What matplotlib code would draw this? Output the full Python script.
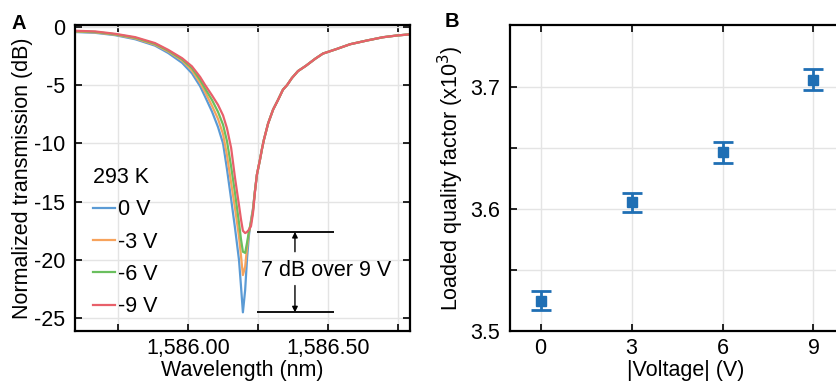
import matplotlib
matplotlib.use('Agg')
import matplotlib.pyplot as plt
from matplotlib.ticker import FuncFormatter

plt.rcParams['font.family'] = ['Liberation Sans', 'DejaVu Sans']
plt.rcParams['axes.unicode_minus'] = False

# ---- panel A: transmission spectra ----
wavelength = [1585.596, 1585.668, 1585.739, 1585.811, 1585.882, 1585.929, 1585.979, 1586.014,
              1586.043, 1586.061, 1586.086, 1586.107, 1586.125, 1586.139, 1586.154, 1586.168,
              1586.182, 1586.189, 1586.196, 1586.204, 1586.211, 1586.218, 1586.225, 1586.232,
              1586.239, 1586.246, 1586.257, 1586.264, 1586.271, 1586.286, 1586.304, 1586.321,
              1586.339, 1586.354, 1586.371, 1586.393, 1586.421, 1586.454, 1586.482, 1586.532,
              1586.579, 1586.639, 1586.696, 1586.746, 1586.793]

wing_right = [-12.7, -11.4, -10.5, -9.7, -8.3, -7.1, -6.3, -5.4, -5.0, -4.4, -3.8, -3.35,
              -2.75, -2.3, -1.9, -1.5, -1.18, -0.9, -0.75, -0.65]

t_0V = [-0.45, -0.52, -0.72, -1.07, -1.62, -2.25, -3.1, -4.0, -5.1, -6.0, -7.3, -8.6, -10.0,
        -12.2, -14.8, -17.3, -20.0, -22.2, -24.5, -22.6, -19.8, -17.8, -16.6, -15.6, -14.1] + wing_right
t_3V = [-0.41, -0.48, -0.68, -1.0, -1.54, -2.12, -2.9, -3.75, -4.8, -5.6, -6.8, -7.9, -9.2,
        -11.0, -13.4, -15.6, -18.0, -19.6, -21.3, -20.6, -18.9, -17.6, -16.7, -15.7, -14.1] + wing_right
t_6V = [-0.37, -0.44, -0.64, -0.94, -1.47, -2.05, -2.8, -3.55, -4.55, -5.3, -6.3, -7.3, -8.4,
        -9.8, -12.0, -14.3, -16.8, -18.2, -19.3, -19.4, -18.5, -17.5, -16.8, -15.8, -14.1] + wing_right
t_9V = [-0.34, -0.40, -0.60, -0.89, -1.40, -1.98, -2.70, -3.40, -4.30, -5.00, -5.90, -6.70, -7.60,
        -8.70, -10.4, -13.0, -15.3, -16.5, -17.5, -17.7, -17.6, -17.4, -17.1, -16.0, -14.2] + wing_right

curves = [t_0V, t_3V, t_6V, t_9V]
curve_labels = ['0 V', '-3 V', '-6 V', '-9 V']
curve_colors = ['#5b9bd5', '#f7a35c', '#6abf5e', '#e8606a']

# ---- panel B: loaded Q ----
voltage = [0, 3, 6, 9]
q_loaded = [3.525, 3.6055, 3.6467, 3.7063]
q_err = [0.008, 0.008, 0.0085, 0.0087]

fs = 15.5
fig = plt.figure(figsize=(8.36, 3.86), dpi=100)
ax1 = fig.add_axes([0.0897, 0.1425, 0.4007, 0.7927])
ax2 = fig.add_axes([0.610, 0.1425, 0.42, 0.7927])

for y, lab, c in zip(curves, curve_labels, curve_colors):
    ax1.plot(wavelength, y, color=c, linewidth=1.6, label=lab)

ax1.set_xlim(1585.596, 1586.793)
ax1.set_ylim(-26.1, 0.15)
ax1.set_xticks([1586.0, 1586.5])
ax1.set_xticks([1585.75, 1586.25, 1586.75], minor=True)
ax1.set_yticks([0, -5, -10, -15, -20, -25])
ax1.xaxis.set_major_formatter(FuncFormatter(lambda v, p: '{:,.2f}'.format(v)))
ax1.set_xlabel('Wavelength (nm)', fontsize=fs, labelpad=1)
ax1.set_ylabel('Normalized transmission (dB)', fontsize=fs, labelpad=1)
ax1.grid(True, which='both', color='#e4e4e4', linewidth=1)
ax1.set_axisbelow(True)

leg = ax1.legend(title='293 K', loc='upper left', bbox_to_anchor=(0.055, 0.535), frameon=False,
                 fontsize=fs, title_fontsize=fs, handlelength=1.0, handletextpad=0.15,
                 labelspacing=0.52, borderpad=0, borderaxespad=0, alignment='left')

# 7 dB annotation
ax1.hlines([-17.6, -24.5], 1586.245, 1586.522, color='black', linewidth=1.3)
ax1.annotate('', xy=(1586.382, -17.6), xytext=(1586.382, -19.3),
             arrowprops=dict(arrowstyle='-|>', color='black', lw=1.0, mutation_scale=8, shrinkA=0, shrinkB=0))
ax1.annotate('', xy=(1586.382, -24.5), xytext=(1586.382, -22.2),
             arrowprops=dict(arrowstyle='-|>', color='black', lw=1.0, mutation_scale=8, shrinkA=0, shrinkB=0))
ax1.text(1586.495, -20.9, '7 dB over 9 V', fontsize=fs, ha='center', va='center')

ax2.errorbar(voltage, q_loaded, yerr=q_err, fmt='s', color='#1f6fb4', markersize=7,
             elinewidth=2, capsize=7, capthick=2)
ax2.set_xlim(-1.01, 10.57)
ax2.set_ylim(3.5, 3.751)
ax2.set_xticks(voltage)
ax2.set_yticks([3.5, 3.6, 3.7])
ax2.set_yticks([3.55, 3.65], minor=True)
ax2.set_xlabel('|Voltage| (V)', fontsize=fs, labelpad=1)
ax2.set_ylabel('Loaded quality factor (x10$^3$)', fontsize=fs, labelpad=3)
ax2.grid(True, which='both', color='#e4e4e4', linewidth=1)
ax2.set_axisbelow(True)

for ax in (ax1, ax2):
    ax.tick_params(which='both', direction='in', top=True, right=True, length=5, width=1.2,
                   labelsize=fs)
    ax.tick_params(axis='x', which='both', pad=5)
    ax.tick_params(axis='y', which='both', pad=7)
    for s in ax.spines.values():
        s.set_linewidth(1.6)
ax2.tick_params(which='both', right=False)

fig.text(0.014, 0.965, 'A', fontsize=14.5, fontweight='bold', va='top')
fig.text(0.532, 0.968, 'B', fontsize=14.5, fontweight='bold', va='top')

fig.savefig('out.png', dpi=100)
